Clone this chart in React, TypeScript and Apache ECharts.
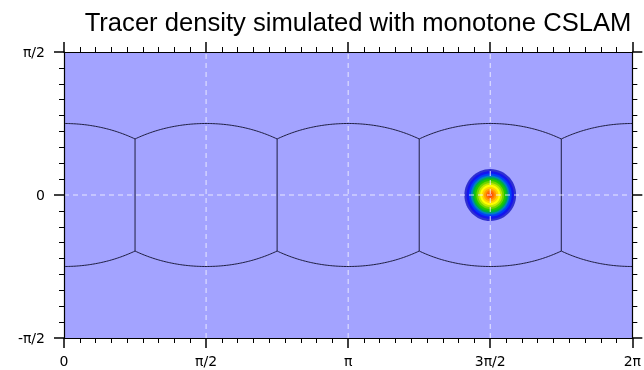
import React, { useEffect, useRef } from 'react';
import * as echarts from 'echarts';

const TITLE = 'Tracer density simulated with monotone CSLAM';

// axes (degrees, labelled in radians)
const xTickDeg = [0, 90, 180, 270, 360];
const xTickLabels = ['0', 'π/2', 'π', '3π/2', '2π'];
const yTickDeg = [-90, 0, 90];
const yTickLabels = ['-π/2', '0', 'π/2'];
const gridLineLon = [90, 180, 270];
const gridLineLat = [0];

// cubed-sphere panels (equatorial panel centres and corner longitudes)
const panelCenterLon = [0, 90, 180, 270, 360];
const panelCornerLon = [45, 135, 225, 315];

// tracer blob: filled contour bands (outer -> inner)
const blobCenter = [270, 0];
const blobRadiusDeg = [16.4, 15.0, 13.6, 12.3, 11.2, 10.0, 8.8, 7.6, 6.4, 5.2, 4.0, 2.8, 1.6];
const blobColors = ['#3030d0', '#1414f0', '#0040f8', '#0080c0', '#00b040', '#20c800', '#70d400', '#c0e800', '#ffff00', '#ffd000', '#ffa000', '#ff7000', '#ff4800'];

const BG = '#a3a3ff';
const EDGE = '#1e1e40';
const RAD = Math.PI / 180;

function edgeLat(lon: number, c: number) {
  // great-circle cube edge projected to lon-lat
  return Math.atan(Math.cos((lon - c) * RAD)) / RAD;
}

function buildEdgeSeries() {
  const out: any[] = [];
  const lineStyle = { color: EDGE, width: 1 };
  panelCenterLon.forEach((c) => {
    const lo = Math.max(0, c - 45);
    const hi = Math.min(360, c + 45);
    const top: number[][] = [];
    const bot: number[][] = [];
    for (let lon = lo; lon <= hi + 1e-9; lon += 1) {
      const la = edgeLat(lon, c);
      top.push([lon, la]);
      bot.push([lon, -la]);
    }
    [top, bot].forEach((d) =>
      out.push({ type: 'line', data: d, showSymbol: false, silent: true, z: 3, lineStyle, animation: false })
    );
  });
  panelCornerLon.forEach((lon) => {
    const la = edgeLat(lon, lon - 45);
    out.push({ type: 'line', data: [[lon, -la], [lon, la]], showSymbol: false, silent: true, z: 3, lineStyle, animation: false });
  });
  return out;
}

function fmt(ticks: number[], labels: string[]) {
  return (v: number) => {
    const i = ticks.indexOf(Math.round(v));
    return i >= 0 ? labels[i] : '';
  };
}

export default function App() {
  const ref = useRef<HTMLDivElement>(null);
  useEffect(() => {
    if (!ref.current) return;
    const chart = echarts.init(ref.current, undefined, { renderer: 'svg' });
    const FONT = 'DejaVu Sans';
    const axisCommon = {
      type: 'value',
      interval: 90,
      z: 6,
      axisLine: { show: true, onZero: false, lineStyle: { color: '#000', width: 1.2 } },
      axisTick: { show: true, inside: false, length: 10, lineStyle: { color: '#000', width: 1.5 } },
      minorTick: { show: true, splitNumber: 9, length: 5, lineStyle: { color: '#000', width: 1 } },
      splitLine: { show: false },
      minorSplitLine: { show: false },
    };
    const dashStyle = { color: 'rgba(240,240,255,0.9)', width: 1, type: [5, 4] };
    const gridSeries: any[] = [];
    gridLineLon.forEach((lon) =>
      gridSeries.push({ type: 'line', data: [[lon, yTickDeg[0]], [lon, yTickDeg[yTickDeg.length - 1]]], showSymbol: false, silent: true, z: 5, lineStyle: dashStyle })
    );
    gridLineLat.forEach((lat) =>
      gridSeries.push({ type: 'line', data: [[xTickDeg[0], lat], [xTickDeg[xTickDeg.length - 1], lat]], showSymbol: false, silent: true, z: 5, lineStyle: dashStyle })
    );
    const blobData = blobRadiusDeg.map((r) => [blobCenter[0], blobCenter[1], r]);
    chart.setOption({
      animation: false,
      graphic: [
        {
          type: 'text',
          x: 358,
          y: 22,
          style: {
            text: TITLE,
            fontSize: 25.6,
            fontFamily: 'Liberation Sans',
            fill: '#000',
            textAlign: 'center',
            textVerticalAlign: 'middle',
            verticalAlign: 'middle',
          },
        },
      ],
      grid: { left: 64, top: 52, width: 572, height: 286, show: true, backgroundColor: BG, borderWidth: 0 },
      xAxis: [
        {
          ...axisCommon,
          min: 0,
          max: 360,
          position: 'bottom',
          axisLabel: { show: true, margin: 16, formatter: fmt(xTickDeg, xTickLabels), color: '#000', fontSize: 14, fontFamily: FONT },
        },
        { ...axisCommon, min: 0, max: 360, position: 'top', axisLabel: { show: false } },
      ],
      yAxis: [
        {
          ...axisCommon,
          min: -90,
          max: 90,
          position: 'left',
          axisLabel: { show: true, margin: 19, formatter: fmt(yTickDeg, yTickLabels), color: '#000', fontSize: 14, fontFamily: FONT },
        },
        { ...axisCommon, min: -90, max: 90, position: 'right', axisLabel: { show: false } },
      ],
      series: [
        {
          type: 'custom',
          coordinateSystem: 'cartesian2d',
          xAxisIndex: 0,
          yAxisIndex: 0,
          silent: true,
          z: 4,
          data: blobData,
          renderItem: (params: any, api: any) => {
            const c = api.coord([api.value(0), api.value(1)]);
            const s = api.size([api.value(2), api.value(2)]);
            return {
              type: 'ellipse',
              shape: { cx: c[0], cy: c[1], rx: s[0], ry: s[1] },
              style: { fill: blobColors[params.dataIndex] },
            };
          },
        },
        ...buildEdgeSeries(),
        ...gridSeries,
      ],
    });
    return () => chart.dispose();
  }, []);
  return <div ref={ref} style={{ position: 'fixed', left: 0, top: 0, width: 644, height: 370 }} />;
}
